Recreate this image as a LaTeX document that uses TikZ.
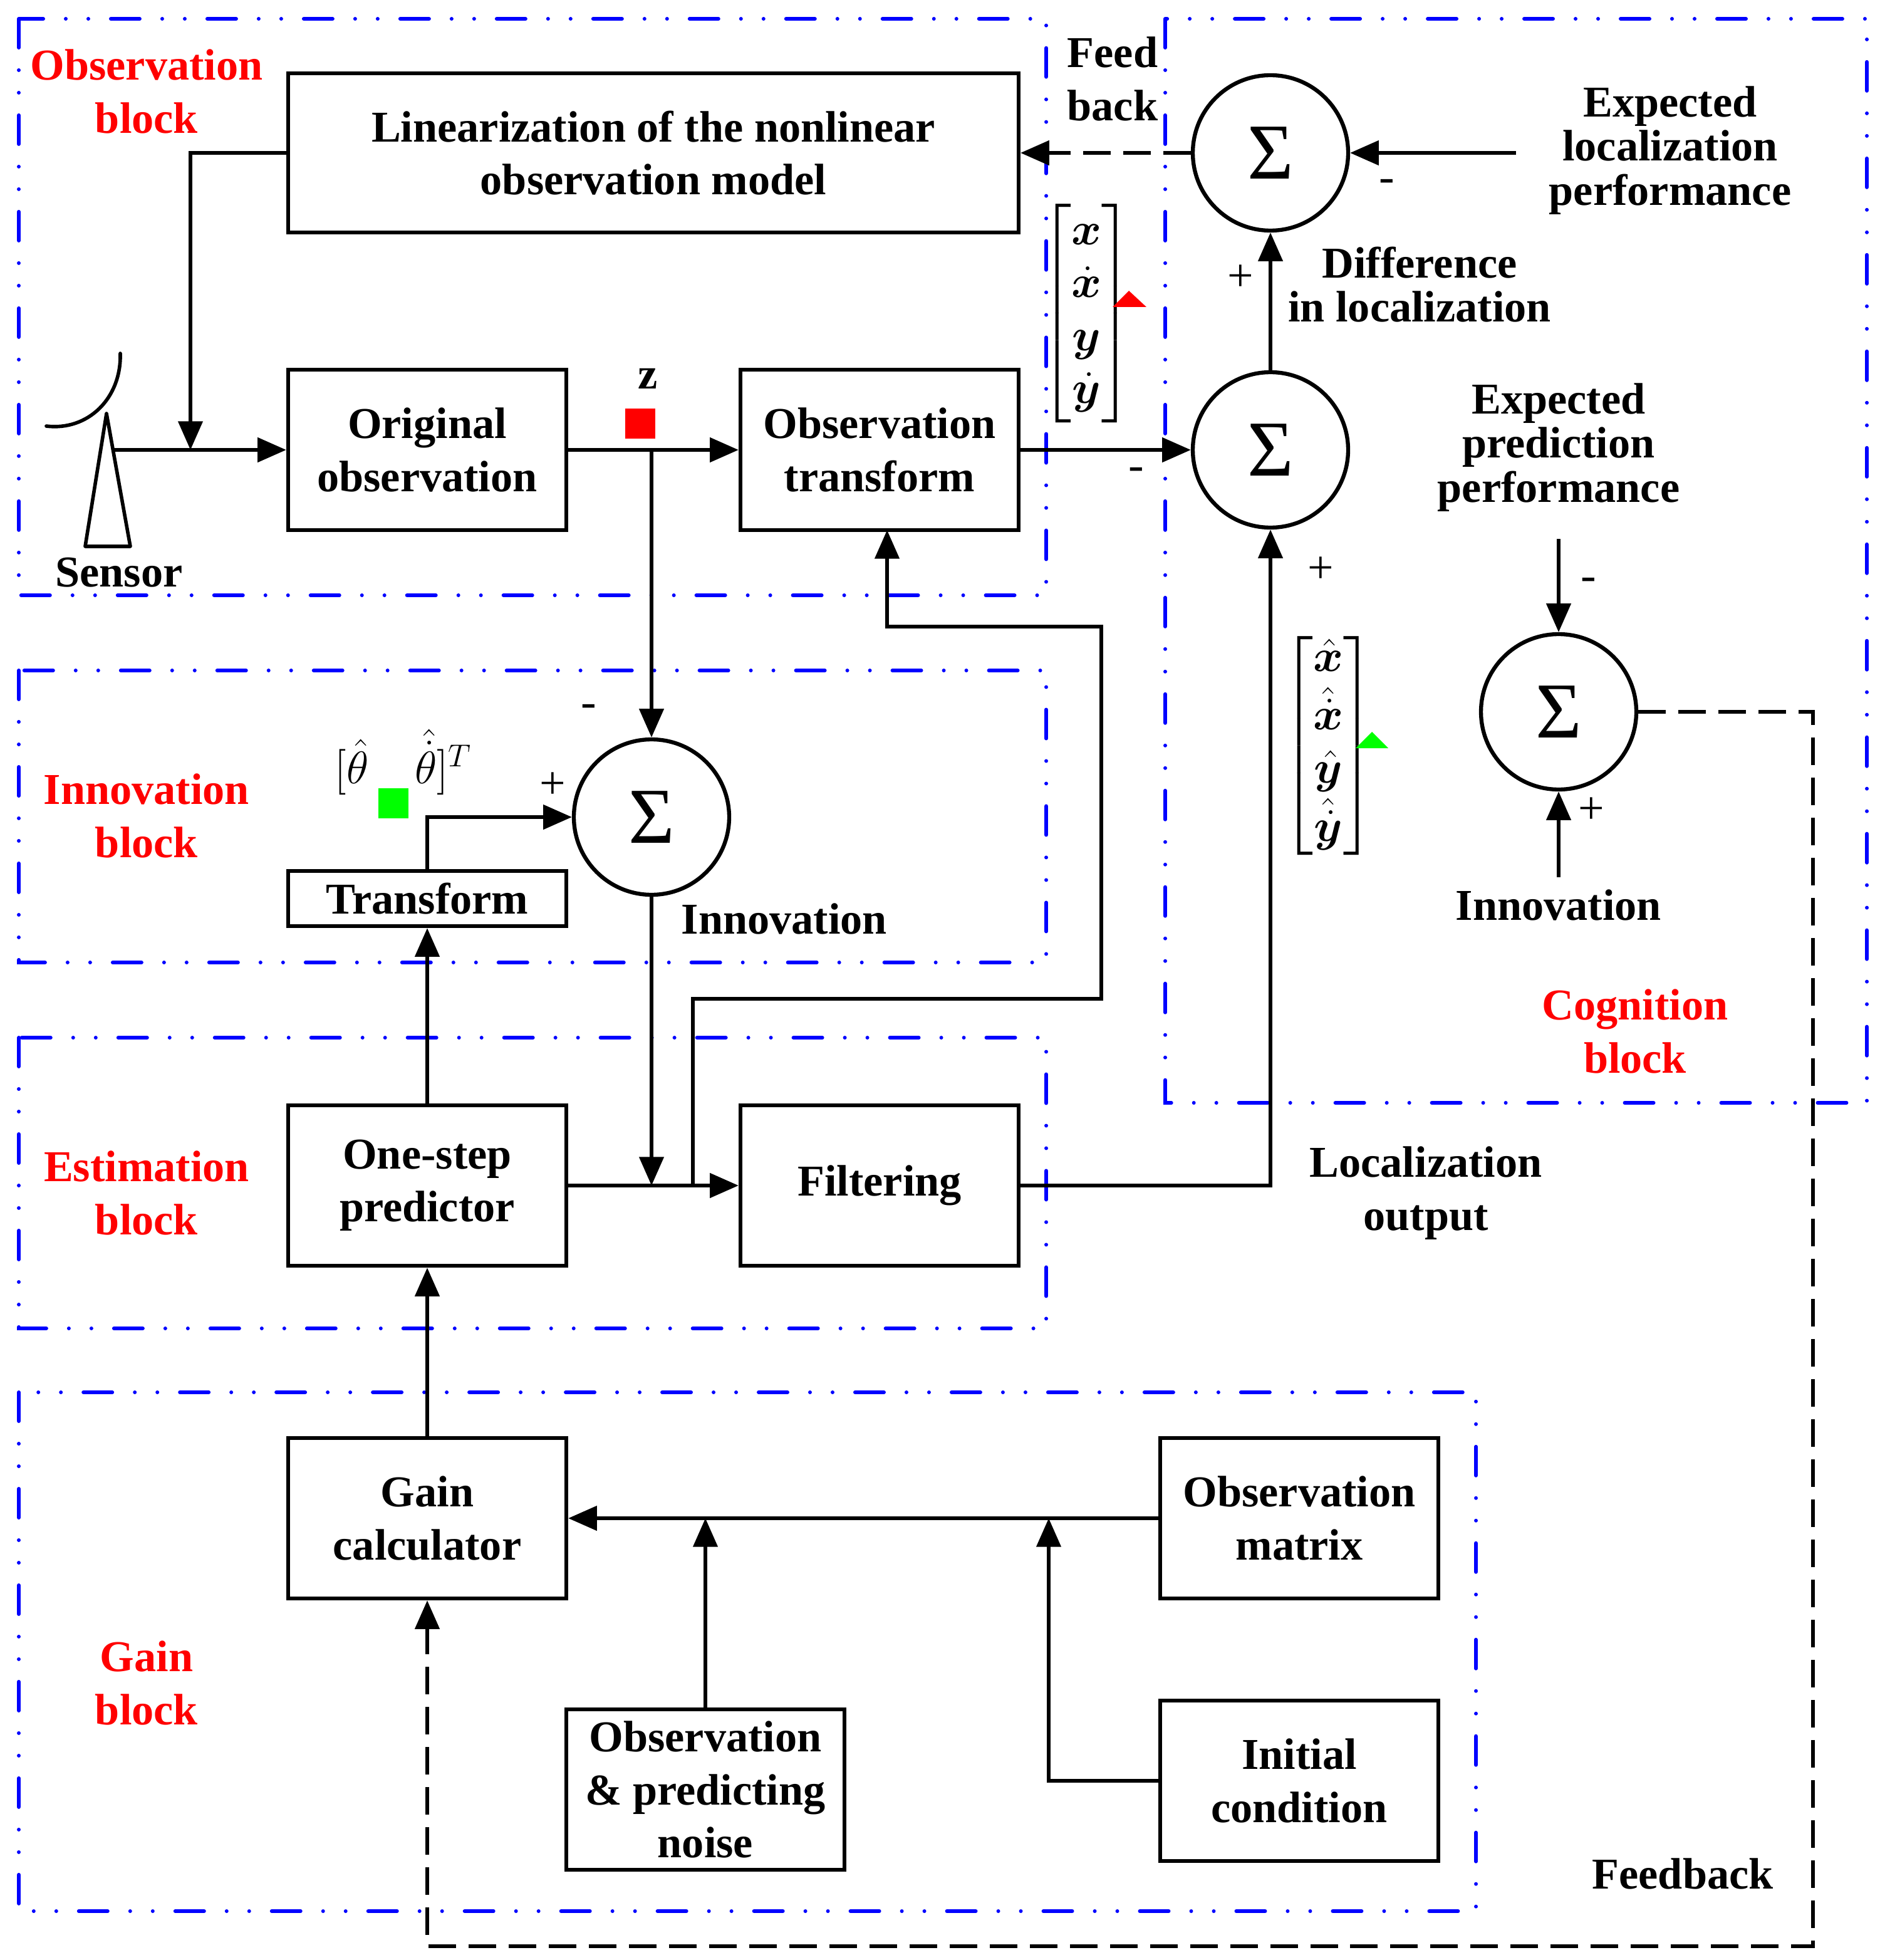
\documentclass[tikz,border=0pt]{standalone}
\usepackage{fontspec}
\setmainfont{Liberation Serif}
\usepackage{amsmath,bm}
\usetikzlibrary{arrows.meta}

\tikzset{
  txt/.style={font=\fontsize{20}{24}\selectfont\bfseries, align=center, inner sep=1pt},
  txtc/.style={font=\fontsize{20}{20}\selectfont\bfseries, align=center, inner sep=1pt},
  blocklabel/.style={txt, text=red},
  box/.style={txt, draw, line width=1.8pt, minimum width=4.44cm, minimum height=2.56cm},
  sumnode/.style={draw, circle, line width=1.8pt, minimum size=2.48cm, inner sep=0pt, font=\fontsize{36}{36}\selectfont},
  sign/.style={font=\fontsize{21}{21}\selectfont, inner sep=0pt},
  arr/.style={line width=1.6pt, -{Triangle[length=13pt,width=11pt]}},
  fbarr/.style={arr, dash pattern=on 0.44cm off 0.2cm},
  region/.style={blue, line width=1.7pt, line cap=round, dash pattern=on 0.46cm off 0.36cm on 0cm off 0.36cm on 0cm off 0.36cm},
}

\begin{document}
\begin{tikzpicture}[x=0.02cm, y=-0.02cm]
        \useasboundingbox (0,0) rectangle (1500,1564);
        % dash-dot blocks
        \draw[region] (15,15) rectangle (835,475);
        \draw[region] (930,15) rectangle (1490,880);
        \draw[region] (15,535) rectangle (835,768);
        \draw[region] (15,828) rectangle (835,1060);
        \draw[region] (15,1111) rectangle (1178,1525);
        \node[blocklabel] (obslbl) at (117,73) {Observation\\block};
        \node[blocklabel] (innlbl) at (117,651) {Innovation\\block};
        \node[blocklabel] (estlbl) at (117,952) {Estimation\\block};
        \node[blocklabel] (gainlbl) at (117,1343) {Gain\\block};
        \node[blocklabel] (coglbl) at (1305,823) {Cognition\\block};
        % boxes
        \node[box, minimum width=11.66cm, minimum height=2.54cm] (lin) at (521.5,122) {Linearization of the nonlinear\\observation model};
        \node[box] (orig) at (341,359) {Original\\observation};
        \node[box] (otr) at (702,359) {Observation\\transform};
        \node[box, minimum height=0.88cm] (trf) at (341,717) {Transform};
        \node[box] (osp) at (341,946) {One-step\\predictor};
        \node[box] (filt) at (702,946) {Filtering};
        \node[box] (gain) at (341,1211.5) {Gain\\calculator};
        \node[box] (omat) at (1037,1211.5) {Observation\\matrix};
        \node[box] (noise) at (563,1428) {Observation\\\& predicting\\noise};
        \node[box] (init) at (1037,1421) {Initial\\condition};
        % sums
        \node[sumnode] (s1) at (1014,122) {Σ};
        \node[sumnode] (s2) at (1014,359) {Σ};
        \node[sumnode] (s3) at (520,652) {Σ};
        \node[sumnode] (s4) at (1244,568) {Σ};
        % sensor
        \draw[line width=1.6pt, line join=round] (85,330) -- (68,436) -- (104,436) -- cycle;
        \draw[line width=1.6pt, line cap=round] (37,340) .. controls (70,344) and (97,318) .. (96,282);
        \node[txt] (sens) at (95,457) {Sensor};
        \coordinate (sout) at (91,359);
        \coordinate (sj) at (152,359);
        \draw[arr] (sout) -- (orig.west);
        \draw[arr] (lin.west) -| (sj);
        % observation path
        \coordinate (zt) at (520,359);
        \draw[arr] (orig) -- (otr);
        \fill[red] (499,326) rectangle (523,350);
        \node[txt] (zlbl) at (517,302) {z};
        \draw[arr] (zt) -- (s3.north);
        \node[sign] (m3) at (470,567) {-};
        \draw[arr] (otr) -- (s2);
        \node[sign] (m2) at (907,378) {-};
        \node[font=\fontsize{20}{24}\selectfont, inner sep=0pt] (xvec) at (867,250)
          {$\left[\begin{array}{@{}c@{}}\bm{x}\\ \bm{\dot{x}}\\ \bm{y}\\ \bm{\dot{y}}\end{array}\right]$};
        \fill[red] (888,245) -- (901,232) -- (915,245) -- cycle;
        \draw[arr] (s2) -- (s1);
        \node[sign] (p1) at (990,222) {+};
        \node[txtc] (diff) at (1133,227) {Difference\\in localization};
        \draw[fbarr] (s1) -- (lin);
        \node[txt] (fbk) at (888,63) {Feed\\back};
        \node[txtc] (elp) at (1333,120) {Expected\\localization\\performance};
        \coordinate (elpin) at (1210,122);
        \draw[arr] (elpin) -- (s1);
        \node[sign] (m1) at (1107,148) {-};
        % innovation
        \draw[arr] (trf.north) |- (s3.west);
        \node[sign] (p3) at (441,627) {+};
        \fill[green] (302,629) rectangle (326,653);
        \node[font=\fontsize{21}{24}\selectfont, inner sep=0pt] (thlbl) at (322,608)
          {$[\hat{\theta}\quad\hat{\dot{\theta}}]^{T}$};
        \node[txt] (innov) at (626,733) {Innovation};
        \coordinate (ij) at (520,946);
        \draw[arr] (s3) -- (ij);
        % estimation
        \draw[arr] (osp) -- (filt);
        \draw[arr] (osp) -- (trf);
        \coordinate (ej) at (553,946);
        \coordinate (otrin) at (708,423);
        \draw[arr] (ej) |- (879,797) |- (708,500) -- (otrin);
        \draw[arr] (filt.east) -| (s2.south);
        \node[sign] (p2) at (1054,455) {+};
        \node[font=\fontsize{20}{24}\selectfont, inner sep=0pt] (hvec) at (1060,595)
          {$\left[\begin{array}{@{}c@{}}\bm{\hat{x}}\\ \bm{\hat{\dot{x}}}\\ \bm{\hat{y}}\\ \bm{\hat{\dot{y}}}\end{array}\right]$};
        \fill[green] (1082,597) -- (1095,584) -- (1108,597) -- cycle;
        \node[txt] (locout) at (1138,952) {Localization\\output};
        % cognition
        \node[txtc] (epp) at (1244,357) {Expected\\prediction\\performance};
        \coordinate (eppin) at (1244,430);
        \draw[arr] (eppin) -- (s4);
        \node[sign] (m4) at (1268,466) {-};
        \node[txt] (innov2) at (1244,722) {Innovation};
        \coordinate (ipin) at (1244,700);
        \draw[arr] (ipin) -- (s4);
        \node[sign] (p4) at (1270,647) {+};
        % gain
        \draw[arr] (gain) -- (osp);
        \draw[arr] (omat) -- (gain);
        \draw[arr] (noise.north) -- (noise.north |- gain.east);
        \coordinate (mj) at (837,1211.5);
        \draw[arr] (init.west) -| (mj);
        % feedback
        \draw[fbarr] (s4.east) -| (1447,1553) -| (gain.south);
        \node[txt] (fbk2) at (1343,1495) {Feedback};
        \end{tikzpicture}
\end{document}
